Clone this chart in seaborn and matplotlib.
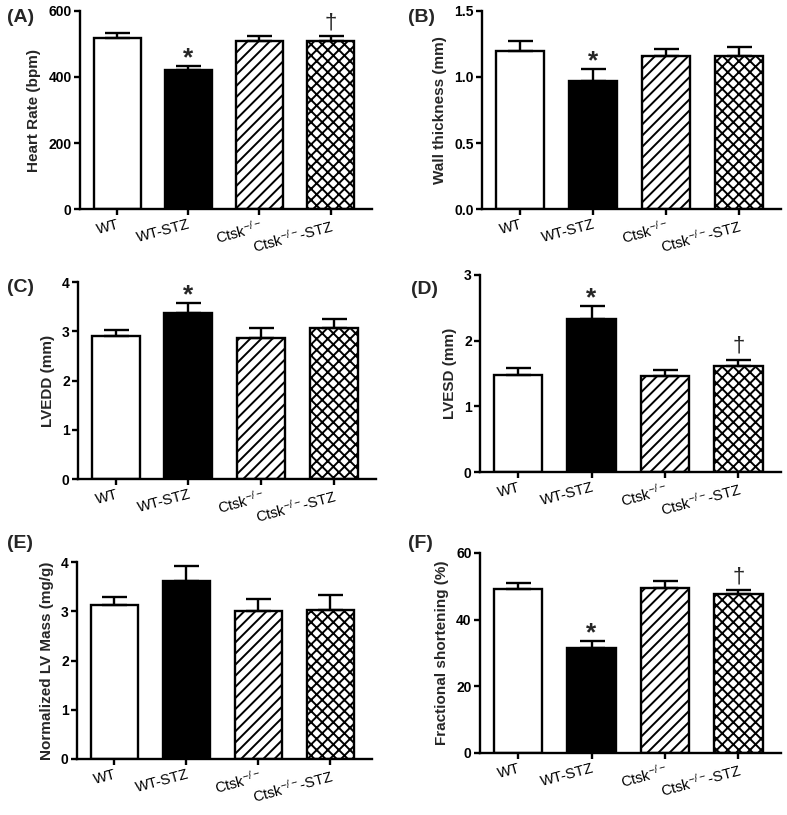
import numpy as np
import pandas as pd
import matplotlib.pyplot as plt
import seaborn as sns

groups = ['WT', 'WT-STZ', r'Ctsk$^{-/-}$', r'Ctsk$^{-/-}$-STZ']

hr_mean = [518, 420, 509, 509]
hr_sem = [16, 13, 15, 15]
wall_mean = [1.20, 0.97, 1.16, 1.16]
wall_sem = [0.07, 0.09, 0.055, 0.07]
lvedd_mean = [2.91, 3.38, 2.86, 3.07]
lvedd_sem = [0.12, 0.20, 0.21, 0.17]
lvesd_mean = [1.48, 2.33, 1.46, 1.62]
lvesd_sem = [0.11, 0.20, 0.10, 0.09]
mass_mean = [3.12, 3.61, 3.00, 3.03]
mass_sem = [0.16, 0.31, 0.24, 0.31]
fs_mean = [49.3, 31.5, 49.4, 47.6]
fs_sem = [1.8, 2.2, 2.1, 1.3]

sns.set_style('ticks')
plt.rcParams['font.family'] = ['Liberation Sans', 'DejaVu Sans']
plt.rcParams['mathtext.default'] = 'regular'
plt.rcParams['hatch.linewidth'] = 1.4

fills = ['white', 'black', 'white', 'white']
hatches = ['', '', '///', 'xxx']

W, H = 787, 815
fig = plt.figure(figsize=(W / 100, H / 100), dpi=100)


def box(l, r, t, b):
    return [l / W, 1 - b / H, (r - l) / W, (b - t) / H]


panels = [
    # label, mean, sem, ylabel, ylim, ticks, marks, box, label pos
    ('(A)', hr_mean, hr_sem, 'Heart Rate (bpm)', 600, [0, 200, 400, 600],
     {1: '*', 3: '†'}, box(80, 372, 11, 209), (7, 17)),
    ('(B)', wall_mean, wall_sem, 'Wall thickness (mm)', 1.5, [0.0, 0.5, 1.0, 1.5],
     {1: '*'}, box(482, 781, 11, 209), (408, 17)),
    ('(C)', lvedd_mean, lvedd_sem, 'LVEDD (mm)', 4, [0, 1, 2, 3, 4],
     {1: '*'}, box(78, 376, 282, 479), (7, 287)),
    ('(D)', lvesd_mean, lvesd_sem, 'LVESD (mm)', 3, [0, 1, 2, 3],
     {1: '*', 3: '†'}, box(480, 781, 275, 472), (411, 290)),
    ('(E)', mass_mean, mass_sem, 'Normalized LV Mass (mg/g)', 4, [0, 1, 2, 3, 4],
     {}, box(77, 372, 562, 759), (7, 543)),
    ('(F)', fs_mean, fs_sem, 'Fractional shortening (%)', 60, [0, 20, 40, 60],
     {1: '*', 3: '†'}, box(480, 781, 553, 753), (408, 543)),
]

for lab, mean, sem, ylabel, ymax, ticks, marks, rect, lpos in panels:
    ax = fig.add_axes(rect)
    df = pd.DataFrame({'group': groups, 'value': mean})
    sns.barplot(data=df, x='group', y='value', hue='group', palette=fills,
                width=0.66, errorbar=None, legend=False, ax=ax)
    for patch, hatch in zip(ax.patches, hatches):
        patch.set_edgecolor('black')
        patch.set_linewidth(1.7)
        patch.set_hatch(hatch)
        patch.set_zorder(2)
    ax.errorbar(np.arange(4), mean, yerr=[np.zeros(4), sem], fmt='none',
                ecolor='black', elinewidth=1.7, capsize=9, capthick=1.7, zorder=3)
    for i, m in marks.items():
        top = mean[i] + sem[i]
        if m == '*':
            ax.annotate(m, (i, top), xytext=(0, -3), textcoords='offset points',
                        ha='center', va='bottom', fontsize=19, fontweight='bold')
        else:
            ax.annotate(m, (i, top), xytext=(0, 2), textcoords='offset points',
                        ha='center', va='bottom', fontsize=16)
    ax.set_ylim(0, ymax)
    ax.set_yticks(ticks)
    ax.set_yticklabels([f'{t:g}' if ymax != 1.5 else f'{t:.1f}' for t in ticks],
                       fontsize=10, fontweight='bold')
    ax.set_xlim(-0.52, 3.58)
    ax.set_xticks(range(4))
    ax.set_xticklabels(groups, rotation=15, ha='right', rotation_mode='anchor',
                       fontsize=10.5)
    ax.set_xlabel('')
    ax.set_ylabel(ylabel, fontsize=11, fontweight='bold', labelpad=5)
    sns.despine(ax=ax)
    for s in ['left', 'bottom']:
        ax.spines[s].set_linewidth(1.7)
        ax.spines[s].set_color('black')
    ax.tick_params(width=1.7, length=4, colors='black', pad=2)
    fig.text(lpos[0] / W, 1 - lpos[1] / H, lab, fontsize=14, fontweight='bold',
             ha='left', va='center')

fig.savefig('out.png', dpi=100)
